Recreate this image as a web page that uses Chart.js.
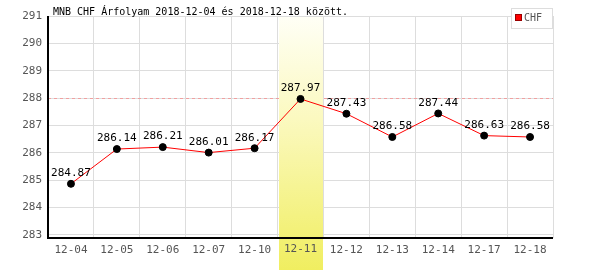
<!DOCTYPE html>
<html>
<head>
<meta charset="utf-8">
<script src="https://cdn.jsdelivr.net/npm/chart.js@4"></script>
<style>
  html, body { margin: 0; padding: 0; background: #fff; }
  #wrap { width: 600px; height: 270px; }
</style>
</head>
<body>
<div id="wrap"><canvas id="chart" width="600" height="270"></canvas></div>
<script>
const labels = ['12-04', '12-05', '12-06', '12-07', '12-10', '12-11', '12-12', '12-13', '12-14', '12-17', '12-18'];
const chfValues = [284.87, 286.14, 286.21, 286.01, 286.17, 287.97, 287.43, 286.58, 287.44, 286.63, 286.58];
const yTicks = [283, 284, 285, 286, 287, 288, 289, 290, 291];
const titleText = 'MNB CHF Árfolyam 2018-12-04 és 2018-12-18 között.';
const highlightLabel = '12-11';
const refLine = 288;

const mono = "'DejaVu Sans Mono', monospace";

const extras = {
  id: 'extras',
  beforeDatasetsDraw(chart) {
    const { ctx, chartArea: a, scales: { x, y } } = chart;
    ctx.save();
    // dashed reference line
    const ry = Math.round(y.getPixelForValue(refLine)) + 0.5;
    ctx.strokeStyle = '#f0a0a0';
    ctx.lineWidth = 1;
    ctx.setLineDash([3, 3]);
    ctx.beginPath();
    ctx.moveTo(a.left, ry);
    ctx.lineTo(a.right, ry);
    ctx.stroke();
    ctx.setLineDash([]);
    // highlighted day
    const i = labels.indexOf(highlightLabel);
    const w = (a.right - a.left) / labels.length;
    const x0 = Math.round(a.left + w * i) + 1;
    const x1 = Math.round(a.left + w * (i + 1));
    const g = ctx.createLinearGradient(0, a.top, 0, chart.height);
    g.addColorStop(0, '#fffff6');
    g.addColorStop(0.4, '#fbf9c0');
    g.addColorStop(1, '#f0ee60');
    ctx.fillStyle = g;
    ctx.fillRect(x0, a.top + 1, x1 - x0, chart.height - a.top);
    // tick label of the highlighted day, drawn again on top
    ctx.font = '11px ' + mono;
    ctx.fillStyle = '#555';
    ctx.textAlign = 'center';
    ctx.textBaseline = 'top';
    ctx.fillText(highlightLabel, x.getPixelForValue(i), a.bottom + 6);
    // axis lines
    ctx.strokeStyle = '#000';
    ctx.lineWidth = 2;
    ctx.beginPath();
    ctx.moveTo(a.left, a.top);
    ctx.lineTo(a.left, a.bottom);
    ctx.lineTo(a.right, a.bottom);
    ctx.stroke();
    ctx.restore();
  },
  afterDatasetsDraw(chart) {
    const { ctx } = chart;
    const meta = chart.getDatasetMeta(0);
    ctx.save();
    ctx.font = '11px ' + mono;
    ctx.fillStyle = '#000';
    ctx.textAlign = 'center';
    ctx.textBaseline = 'bottom';
    meta.data.forEach((pt, i) => {
      ctx.fillText(chfValues[i].toFixed(2), pt.x, pt.y - 5);
    });
    // title
    ctx.font = '10px ' + mono;
    ctx.textAlign = 'left';
    ctx.textBaseline = 'alphabetic';
    ctx.fillText(titleText, 53, 15);
    // legend
    ctx.fillStyle = '#fff';
    ctx.fillRect(511, 8, 41, 20);
    ctx.strokeStyle = '#dddddd';
    ctx.lineWidth = 1;
    ctx.strokeRect(511.5, 8.5, 41, 20);
    ctx.fillStyle = '#ff0000';
    ctx.fillRect(515, 14, 7, 7);
    ctx.strokeStyle = '#990000';
    ctx.strokeRect(515.5, 14.5, 6, 6);
    ctx.fillStyle = '#555';
    ctx.font = '10px ' + mono;
    ctx.textBaseline = 'middle';
    ctx.fillText(chart.data.datasets[0].label, 524, 18.5);
    ctx.restore();
  }
};

new Chart(document.getElementById('chart'), {
  type: 'line',
  data: {
    labels,
    datasets: [{
      label: 'CHF',
      data: chfValues,
      borderColor: '#ff0000',
      borderWidth: 1,
      pointBackgroundColor: '#000',
      pointBorderColor: '#000',
      pointRadius: 3.5,
      tension: 0
    }]
  },
  options: {
    responsive: false,
    animation: false,
    layout: { padding: { top: 16, right: 47, left: 0, bottom: 0 } },
    plugins: { legend: { display: false }, tooltip: { enabled: false } },
    scales: {
      x: {
        offset: true,
        grid: { color: '#dddddd', offset: true, drawTicks: false },
        border: { display: false },
        ticks: { color: '#555', font: { family: mono, size: 11 }, padding: 6, maxRotation: 0, autoSkip: false },
        afterFit(s) { s.height = 32; }
      },
      y: {
        min: 282.89,
        max: 291,
        afterBuildTicks(s) { s.ticks = yTicks.map(v => ({ value: v })); },
        grid: { color: '#dddddd', drawTicks: false },
        border: { display: false },
        ticks: { color: '#555', font: { family: mono, size: 11 }, padding: 6 },
        afterFit(s) { s.width = 48; }
      }
    }
  },
  plugins: [extras]
});
</script>
</body>
</html>
